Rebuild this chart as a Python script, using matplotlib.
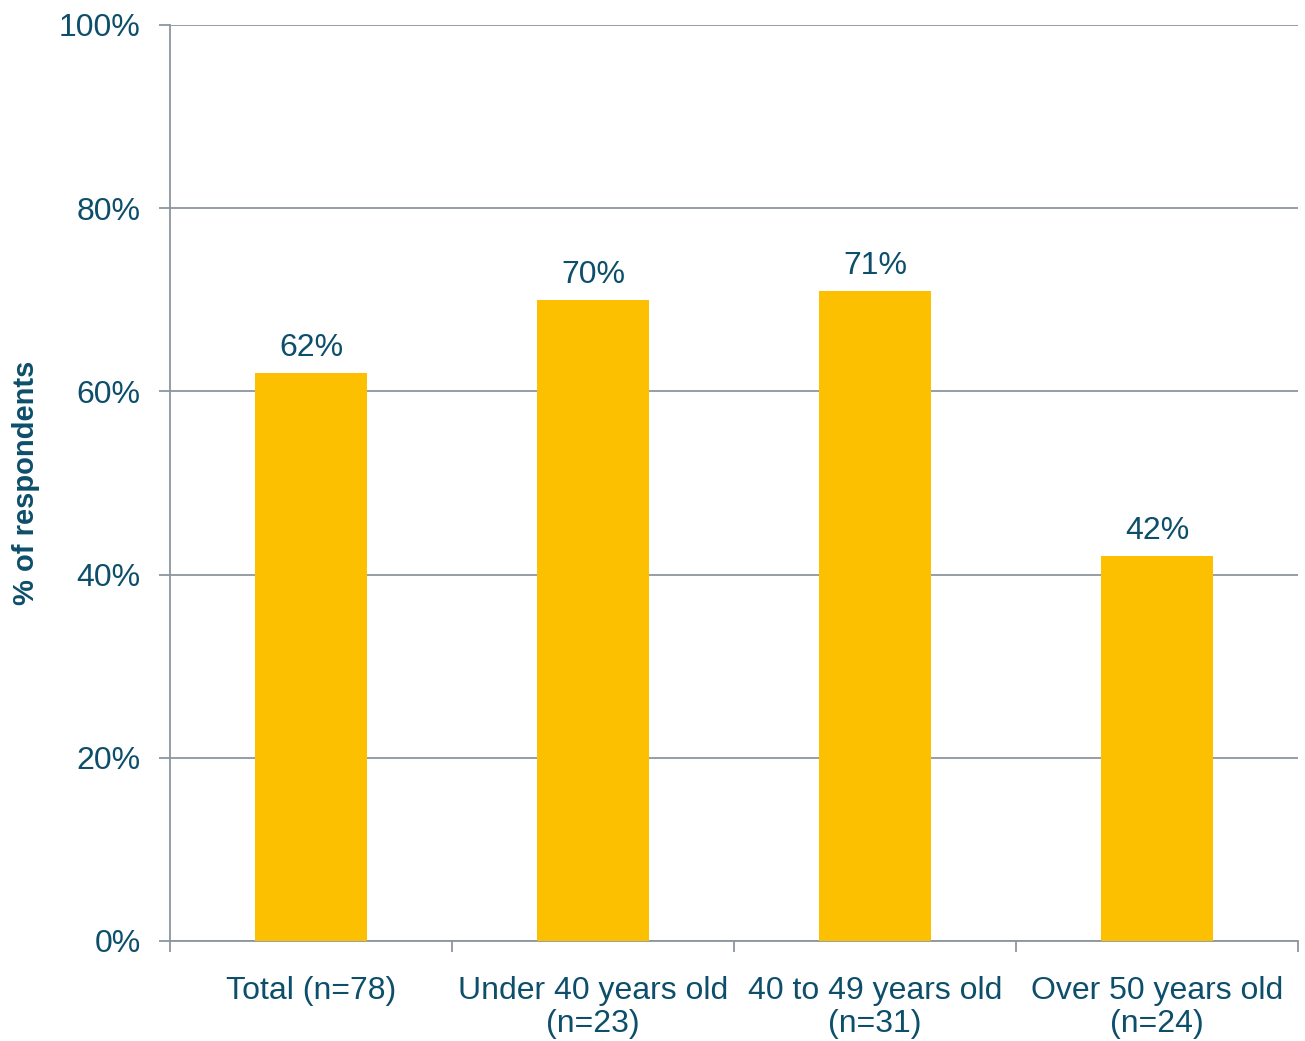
import numpy as np
import matplotlib.pyplot as plt
from matplotlib.ticker import FixedLocator, NullFormatter

plt.rcParams['font.family'] = ['Liberation Sans', 'DejaVu Sans']

categories = ['Total (n=78)', 'Under 40 years old\n(n=23)',
              '40 to 49 years old\n(n=31)', 'Over 50 years old\n(n=24)']
values = [62, 70, 71, 42]
yticks = [0, 20, 40, 60, 80, 100]

text_col = '#0D4F6B'
grid_col = '#8C969F'
bar_col = '#FDC000'

fig = plt.figure(figsize=(13.05, 10.41), dpi=100)
ax = fig.add_axes([0.1303, 0.0961, 0.8643, 0.8799])

x = np.arange(len(categories))
bars = ax.bar(x, values, width=0.4, color=bar_col, zorder=3)
for b, v in zip(bars, values):
    ax.text(b.get_x() + b.get_width() / 2, v + 1.1, f'{v}%', ha='center',
            va='bottom', fontsize=23, color=text_col)

ax.set_xlim(-0.5, len(categories) - 0.5)
ax.set_ylim(0, 100)
ax.set_yticks(yticks)
ax.set_yticklabels([f'{t}%' for t in yticks], fontsize=23, color=text_col)
ax.yaxis.grid(True, color=grid_col, linewidth=1.3, zorder=0)
ax.tick_params(axis='y', length=8, width=1.3, color=grid_col, pad=13)

ax.set_xticks(x)
ax.set_xticklabels(categories, fontsize=23, color=text_col, linespacing=1.15)
ax.tick_params(axis='x', which='major', length=0, pad=25)
ax.xaxis.set_minor_locator(FixedLocator(np.arange(-0.5, len(categories), 1)))
ax.xaxis.set_minor_formatter(NullFormatter())
ax.tick_params(axis='x', which='minor', length=8, width=1.3, color=grid_col)

for s in ['top', 'right']:
    ax.spines[s].set_visible(False)
for s in ['left', 'bottom']:
    ax.spines[s].set_color(grid_col)
    ax.spines[s].set_linewidth(1.3)

ax.set_ylabel('% of respondents', fontsize=21, fontweight='bold',
              color=text_col, labelpad=14)

fig.savefig('out.png', dpi=100)
